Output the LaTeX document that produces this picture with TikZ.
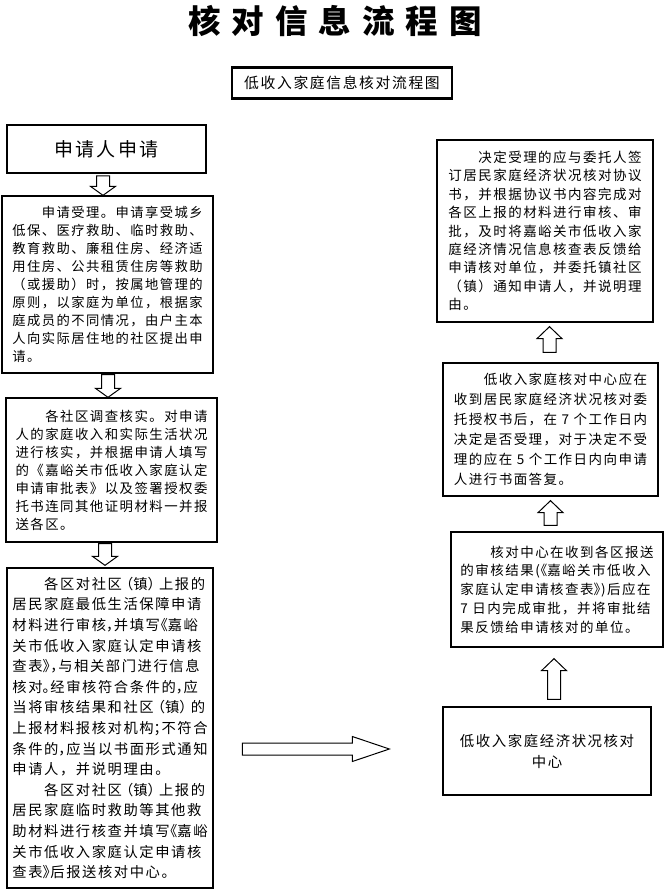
\documentclass[tikz,border=0pt]{standalone}
\usepackage{fontspec}
\usetikzlibrary{calc}
\newfontfamily\cjk{Noto Sans CJK SC}[LetterSpace=11]
\newfontfamily\titlecjk{Noto Sans CJK SC}[LetterSpace=34]
\newcommand\hpl[1]{\makebox[0.55em][l]{#1}}
\newcommand\hpr[1]{\makebox[0.55em][r]{#1}}
\newcommand\ppl[1]{\makebox[0.8em][l]{#1}}
\newcommand\ppr[1]{\makebox[0.8em][r]{#1}}
\tikzset{
  box/.style={draw, line width=1.3pt, inner sep=0pt, align=left},
  blockarrow/.style n args={3}{draw, line width=1pt, line join=miter,
    to path={
      ($(\tikztostart)!#1!90:(\tikztotarget)$)
      -- ($($(\tikztotarget)!#3!(\tikztostart)$)!#1!90:(\tikztotarget)$)
      -- ($($(\tikztotarget)!#3!(\tikztostart)$)!#2!90:(\tikztotarget)$)
      -- (\tikztotarget)
      -- ($($(\tikztotarget)!#3!(\tikztostart)$)!#2!-90:(\tikztotarget)$)
      -- ($($(\tikztotarget)!#3!(\tikztostart)$)!#1!-90:(\tikztotarget)$)
      -- ($(\tikztostart)!#1!-90:(\tikztotarget)$)
      -- cycle}},
  downarrow/.style={blockarrow={6.5pt}{12.5pt}{9pt}},
  uparrow/.style={blockarrow={6.5pt}{12.5pt}{12pt}},
}
\begin{document}
\begin{tikzpicture}[x=1pt,y=-1pt]
\fill[white] (0,0) rectangle (665,891);
\useasboundingbox (0,0) rectangle (665,891);

\node (title) at (335,21) {\titlecjk\bfseries\fontsize{32.5}{33}\selectfont 核对信息流程图};
\node[box, line width=2.2pt, minimum width=220, minimum height=31, align=center,
  font={\cjk\fontsize{14.8}{16}\selectfont}] (hdr) at (342,83) {低收入家庭信息核对流程图};

\node[box, line width=1.8pt, minimum width=199, minimum height=48, align=center,
  font={\cjk\fontsize{19}{22}\selectfont}] (b1) at (106.5,149) {申请人申请};

\node[box, minimum width=211, minimum height=177,
  font={\cjk\fontsize{13.3}{18}\selectfont}] (b2) at (107.5,284.5) {%
　　申请受理。申请享受城乡\\
低保、医疗救助、临时救助、\\
教育救助、廉租住房、经济适\\
用住房、公共租赁住房等救助\\
（或援助）时，按属地管理的\\
原则，以家庭为单位，根据家\\
庭成员的不同情况，由户主本\\
人向实际居住地的社区提出申\\
请。};

\node[box, minimum width=211, minimum height=144,
  font={\cjk\fontsize{13.4}{18}\selectfont}] (b3) at (111.5,470) {%
　　各社区调查核实。对申请\\
人的家庭收入和实际生活状况\\
进行核实，并根据申请人填写\\
的《嘉峪关市低收入家庭认定\\
申请审批表》以及签署授权委\\
托书连同其他证明材料一并报\\
送各区。};

\node[box, minimum width=206, minimum height=320,
  font={\cjk\fontsize{14.3}{20.6}\selectfont}] (b4) at (110,728) {%
　　各区对社区\ppr{（}镇\ppl{）}上报的\\
居民家庭最低生活保障申请\\
材料进行审核\hpl{，}并填写\hpr{《}嘉峪\\
关市低收入家庭认定申请核\\
查表\hpl{》}\hpl{，}与相关部门进行信息\\
核对\hpl{。}经审核符合条件的\hpl{，}应\\
当将审核结果和社区\ppr{（}镇\ppl{）}的\\
上报材料报核对机构\hpl{；}不符合\\
条件的\hpl{，}应当以书面形式通知\\
申请人，并说明理由。\\
　　各区对社区\ppr{（}镇\ppl{）}上报的\\
居民家庭临时救助等其他救\\
助材料进行核查并填写\hpr{《}嘉峪\\
关市低收入家庭认定申请核\\
查表\hpl{》}后报送核对中心。};

\node[box, minimum width=216, minimum height=182,
  font={\cjk\fontsize{13.5}{18.4}\selectfont}] (r1) at (545,231) {%
　　决定受理的应与委托人签\\
订居民家庭经济状况核对协议\\
书，并根据协议书内容完成对\\
各区上报的材料进行审核、审\\
批，及时将嘉峪关市低收入家\\
庭经济情况信息核查表反馈给\\
申请核对单位，并委托镇社区\\
（镇）通知申请人，并说明理\\
由。};

\node[box, minimum width=215, minimum height=133,
  font={\cjk\fontsize{13.5}{20}\selectfont}] (r2) at (550.5,429.5) {%
　　低收入家庭核对中心应在\\
收到居民家庭经济状况核对委\\
托授权书后，在 7 个工作日内\\
决定是否受理，对于决定不受\\
理的应在 5 个工作日内向申请\\
人进行书面答复。};

\node[box, minimum width=212, minimum height=115,
  font={\cjk\fontsize{13.5}{18.8}\selectfont}] (r3) at (557,589.5) {%
　　核对中心在收到各区报送\\
的审核结果(\hpr{《}嘉峪关市低收入\\
家庭认定申请核查表\hpl{》})后应在\\
7 日内完成审批，并将审批结\\
果反馈给申请核对的单位。};

\node[box, minimum width=208, minimum height=88, align=center,
  font={\cjk\fontsize{14.4}{21}\selectfont}] (r4) at (547,751) {%
低收入家庭经济状况核对\\中心};

% arrow end points
\coordinate (a1s) at ($(b1.south)+(-3.5,2)$);
\coordinate (a1e) at ($(b2.north)+(-4.5,0)$);
\coordinate (a2s) at ($(b2.south)+(0.5,1)$);
\coordinate (a2e) at ($(b3.north)+(-3.5,0)$);
\coordinate (a3s) at ($(b3.south)+(-6.5,1)$);
\coordinate (a3e) at ($(b4.north)+(-5,-2)$);
\coordinate (a4s) at ($(r4.west)+(-200,-2)$);
\coordinate (a4e) at ($(r4.west)+(-53,-2)$);
\coordinate (u1s) at ($(r4.north)+(7,-7)$);
\coordinate (u1e) at ($(r3.south)+(-3,11)$);
\coordinate (u2s) at ($(r3.north)+(-6.5,-6)$);
\coordinate (u2e) at ($(r2.south)+(0,4)$);
\coordinate (u3s) at ($(r2.north)+(-1,-10)$);
\coordinate (u3e) at ($(r1.south)+(4.5,4)$);

\draw[downarrow] (a1s) to (a1e);
\draw[downarrow] (a2s) to (a2e);
\draw[downarrow] (a3s) to (a3e);
\draw[blockarrow={6pt}{12.5pt}{37pt}] (a4s) to (a4e);
\draw[uparrow] (u1s) to (u1e);
\draw[uparrow] (u2s) to (u2e);
\draw[uparrow] (u3s) to (u3e);
\end{tikzpicture}
\end{document}
